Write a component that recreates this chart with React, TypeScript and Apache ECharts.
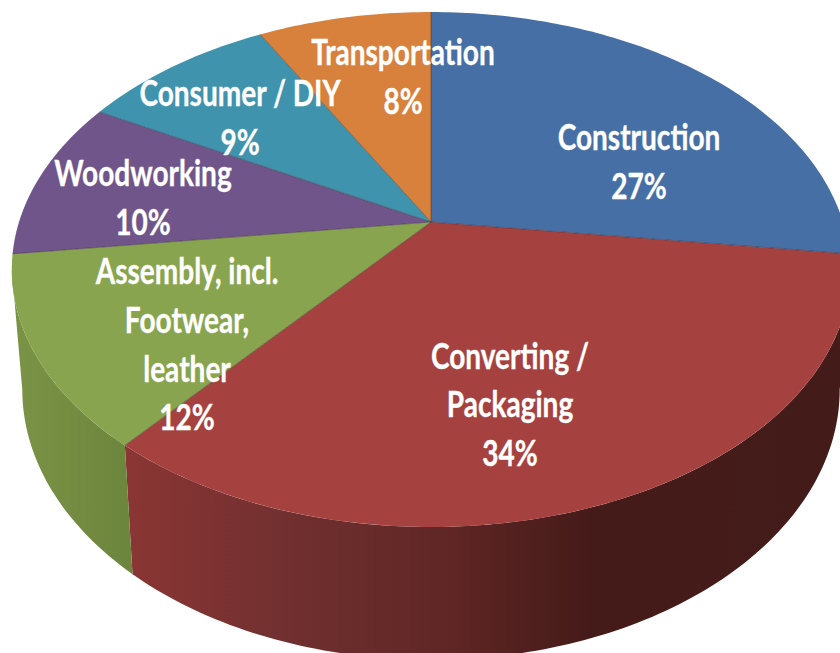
import React, { useEffect, useRef } from "react";
import * as echarts from "echarts";

const categories = [
  "Construction",
  "Converting /\nPackaging",
  "Assembly, incl.\nFootwear,\nleather",
  "Woodworking",
  "Consumer / DIY",
  "Transportation",
];
const shares = [27, 34, 12, 10, 9, 8];
const faceColors = ["#456fa5", "#a54240", "#89a44e", "#70558b", "#3f93ad", "#d8813c"];
const wallStops: (Array<[number, string]> | null)[] = [
  [[840, "#2c4468"]],
  [[125, "#8a3634"], [280, "#723030"], [450, "#5f2625"], [590, "#451b19"], [840, "#431c19"]],
  [[15, "#7a9345"], [133, "#6c853d"]],
  null,
  null,
  null,
];
const labelAnchors = [
  [639, 161],
  [510, 404],
  [187, 344],
  [143, 197],
  [240, 117],
  [403, 76],
];

// Perspective projection of the pie's circular plane on to the page
const HUB_X = 431;
const HUB_Y = 222;
const RX = 412;
const RY = 248.7;
const PERSP = 0.1845;
const DEPTH_SCALE = 0.975;
const TAU = Math.PI * 2;

const top = (a: number) => {
  const d = 1 + PERSP * Math.cos(a);
  return [HUB_X + (RX * Math.sin(a)) / d, HUB_Y - (RY * Math.cos(a)) / d];
};
const low = (a: number) => {
  const [x, y] = top(a);
  return [HUB_X + (x - HUB_X) * DEPTH_SCALE, y + 106.5 + 0.05 * y];
};
const total = shares.reduce((s, v) => s + v, 0);
const startOf = (i: number) => (shares.slice(0, i).reduce((s, v) => s + v, 0) / total) * TAU;
const sweep = (a0: number, a1: number, f: (a: number) => number[]) => {
  const n = Math.max(2, Math.ceil(((a1 - a0) / TAU) * 360));
  const out: number[][] = [];
  for (let k = 0; k <= n; k++) out.push(f(a0 + ((a1 - a0) * k) / n));
  return out;
};
const WALL_FROM = Math.acos(-PERSP);
const WALL_TO = TAU - WALL_FROM;

function wallFill(i: number) {
  const stops = wallStops[i] || [[0, faceColors[i]]];
  if (stops.length < 2) return stops[0][1];
  const x0 = stops[0][0];
  const x1 = stops[stops.length - 1][0];
  return new echarts.graphic.LinearGradient(
    x0, 0, x1, 0,
    stops.map(([x, c]) => ({ offset: (x - x0) / (x1 - x0), color: c })),
    true
  );
}

const seriesData = categories.map((name, i) => ({ name, value: shares[i] }));

const renderWall = (p: any) => {
  const i = p.dataIndex;
  const a0 = Math.max(startOf(i), WALL_FROM);
  const a1 = Math.min(startOf(i) + (shares[i] / total) * TAU, WALL_TO);
  if (a1 <= a0) return { type: "group", children: [] };
  return {
    type: "polygon",
    silent: true,
    shape: { points: [...sweep(a0, a1, top), ...sweep(a0, a1, low).reverse()] },
    style: { fill: wallFill(i) },
  };
};
const renderFace = (p: any) => {
  const i = p.dataIndex;
  const a0 = startOf(i);
  const a1 = a0 + (shares[i] / total) * TAU;
  return {
    type: "polygon",
    silent: true,
    shape: { points: [[HUB_X, HUB_Y], ...sweep(a0, a1, top)] },
    style: { fill: faceColors[i] },
  };
};
const renderEdge = (p: any) => {
  const [x, y] = top(startOf(p.dataIndex));
  return {
    type: "line",
    silent: true,
    shape: { x1: HUB_X, y1: HUB_Y, x2: x, y2: y },
    style: { stroke: "rgba(50,40,50,0.45)", lineWidth: 1 },
  };
};
const renderLabel = (p: any) => {
  const i = p.dataIndex;
  return {
    type: "text",
    silent: true,
    x: labelAnchors[i][0],
    y: labelAnchors[i][1],
    scaleX: 0.905,
    scaleY: 1.14,
    style: {
      text: `${categories[i]}\n${shares[i]}%`,
      x: 0,
      y: 0,
      align: "center",
      verticalAlign: "middle",
      font: "bold 31px Lato",
      lineHeight: 42.6,
      fill: "#ffffff",
      stroke: "#ffffff",
      lineWidth: 0.3,
    },
  };
};

export default function App() {
  const ref = useRef<HTMLDivElement>(null);
  useEffect(() => {
    document.body.style.margin = "0";
    document.body.style.background = "#ffffff";
    const chart = echarts.init(ref.current!, undefined, { renderer: "svg" });
    const mk = (renderItem: any, z: number) => ({
      type: "custom",
      coordinateSystem: "none",
      data: seriesData,
      renderItem,
      z,
      silent: true,
    });
    chart.setOption({
      animation: false,
      backgroundColor: "#ffffff",
      series: [mk(renderWall, 1), mk(renderFace, 2), mk(renderEdge, 3), mk(renderLabel, 4)],
    });
    return () => chart.dispose();
  }, []);
  return <div ref={ref} style={{ width: 840, height: 653 }} />;
}
